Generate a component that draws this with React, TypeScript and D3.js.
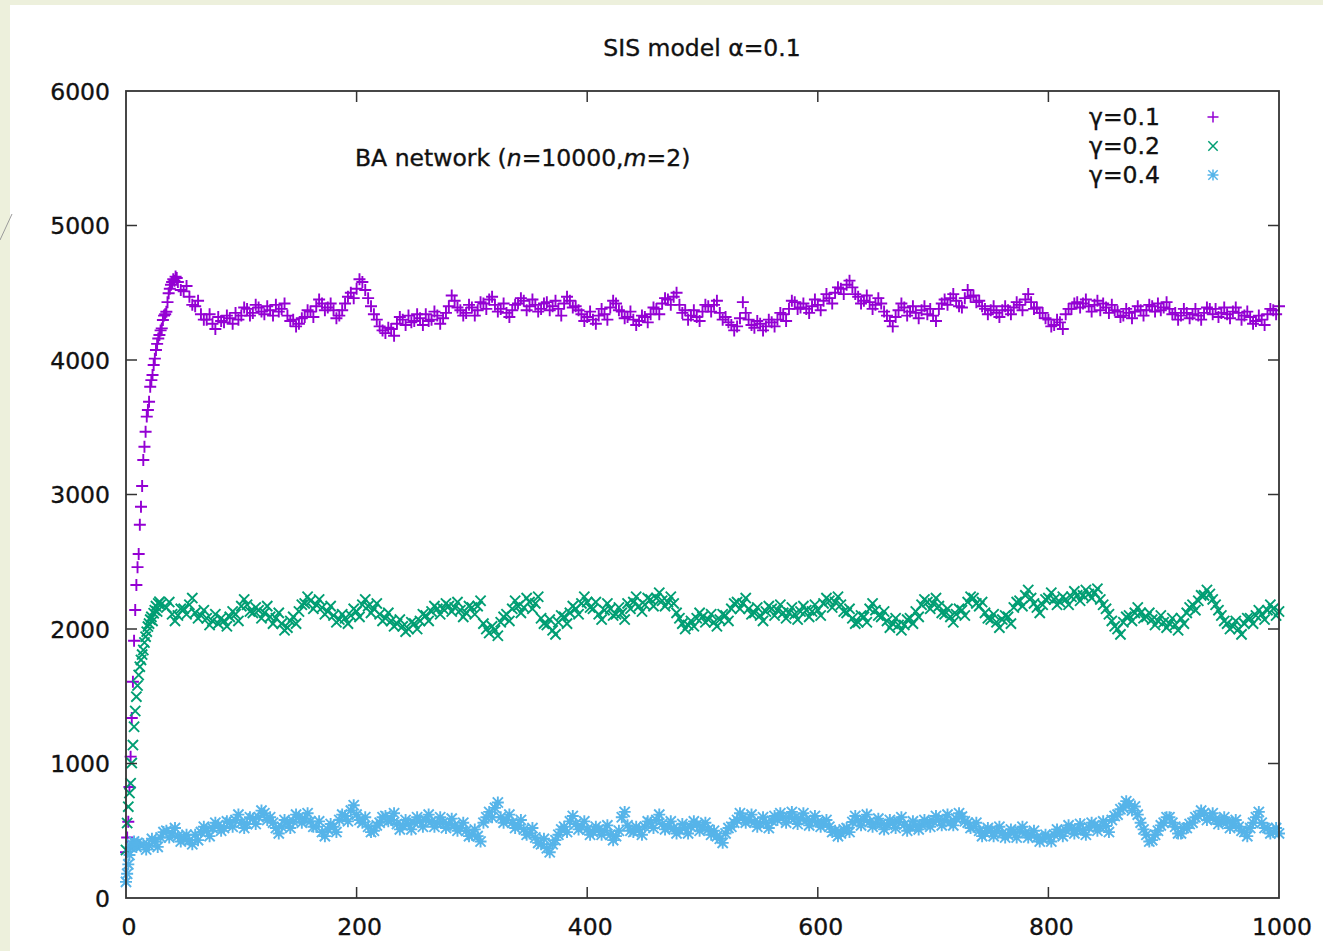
import React from "react";
import * as d3 from "d3";

// ---- data ----
const titleText = "SIS model α=0.1";
const xTicks = [0, 200, 400, 600, 800, 1000];
const yTicks = [0, 1000, 2000, 3000, 4000, 5000, 6000];
const seriesNames = ["γ=0.1", "γ=0.2", "γ=0.4"];

// γ=0.1 : one value per step for t=0..44, then points every 5 steps from t=45
// and the scattered points between them (t=47.5, 52.5, ...)
const purpleEarly = [
  340, 450, 567, 825, 1051, 1338, 1608, 1913, 2141, 2327,
  2460, 2558, 2775, 2909, 3063, 3257, 3355, 3467, 3579, 3628,
  3690, 3801, 3850, 3888, 3963, 4010, 4074, 4120, 4160, 4186,
  4220, 4235, 4297, 4330, 4340, 4359, 4430, 4496, 4530, 4560,
  4580, 4600, 4590, 4620, 4610,
];
const purpleLate = [
  4580, 4510, 4470, 4400, 4340, 4300, 4270, 4320, 4280, 4310,
  4350, 4330, 4380, 4350, 4390, 4340, 4370, 4410, 4380, 4330,
  4300, 4270, 4320, 4360, 4400, 4420, 4390, 4370, 4330, 4420,
  4500, 4530, 4580, 4460, 4340, 4250, 4200, 4230, 4270, 4300,
  4330, 4290, 4310, 4340, 4300, 4330, 4310, 4400, 4440, 4370,
  4350, 4390, 4370, 4420, 4450, 4410, 4380, 4350, 4370, 4420,
  4440, 4400, 4410, 4380, 4430, 4400, 4380, 4420, 4440, 4400,
  4340, 4320, 4300, 4330, 4340, 4390, 4420, 4360, 4320, 4300,
  4290, 4320, 4340, 4380, 4420, 4450, 4470, 4410, 4370, 4330,
  4320, 4360, 4400, 4410, 4350, 4320, 4260, 4250, 4430, 4300,
  4240, 4270, 4250, 4280, 4300, 4340, 4380, 4430, 4390, 4380,
  4400, 4410, 4440, 4460, 4500, 4530, 4560, 4540, 4470, 4440,
  4430, 4410, 4420, 4330, 4250, 4370, 4390, 4360, 4350, 4370,
  4340, 4330, 4380, 4450, 4460, 4440, 4390, 4520, 4480, 4440,
  4380, 4370, 4350, 4370, 4370, 4390, 4410, 4450, 4430, 4390,
  4350, 4300, 4260, 4280, 4340, 4380, 4430, 4420, 4400, 4410,
  4370, 4390, 4410, 4360, 4330, 4350, 4360, 4370, 4370, 4400,
  4420, 4390, 4380, 4350, 4330, 4350, 4340, 4330, 4350, 4380,
  4380, 4350, 4340, 4360, 4350, 4330, 4320, 4290, 4300, 4340,
  4370, 4400,
];
const purpleMid = [
  4520, 4550, 4410, 4440, 4300, 4340, 4230, 4290, 4330, 4270,
  4300, 4390, 4330, 4410, 4360, 4400, 4330, 4360, 4420, 4290,
  4250, 4310, 4370, 4320, 4450, 4370, 4420, 4310, 4370, 4470,
  4460, 4600, 4520, 4400, 4300, 4220, 4240, 4180, 4320, 4260,
  4280, 4340, 4260, 4290, 4360, 4270, 4350, 4480, 4390, 4330,
  4410, 4330, 4430, 4380, 4470, 4360, 4420, 4320, 4410, 4460,
  4370, 4450, 4360, 4420, 4370, 4440, 4330, 4470, 4390, 4370,
  4290, 4360, 4270, 4380, 4300, 4440, 4370, 4310, 4360, 4260,
  4330, 4280, 4390, 4340, 4460, 4410, 4500, 4350, 4300, 4370,
  4290, 4410, 4360, 4440, 4300, 4280, 4220, 4310, 4350, 4260,
  4290, 4220, 4300, 4250, 4350, 4290, 4440, 4380, 4420, 4350,
  4450, 4370, 4490, 4420, 4540, 4490, 4590, 4490, 4420, 4480,
  4380, 4460, 4360, 4290, 4320, 4420, 4330, 4400, 4310, 4400,
  4380, 4290, 4420, 4410, 4490, 4400, 4460, 4470, 4430, 4400,
  4340, 4400, 4320, 4400, 4340, 4430, 4370, 4490, 4380, 4350,
  4310, 4250, 4300, 4230, 4380, 4420, 4390, 4450, 4360, 4440,
  4420, 4350, 4370, 4320, 4380, 4310, 4400, 4330, 4410, 4360,
  4370, 4430, 4340, 4300, 4380, 4310, 4380, 4300, 4390, 4340,
  4320, 4390, 4310, 4390, 4300, 4360, 4270, 4330, 4260, 4380,
  4340,
];

// γ=0.2 : one value per step for t=0..30, then every 5 steps from t=35 (+ in-between points)
const greenEarly = [
  357, 558, 679, 780, 853, 1003, 1137, 1273, 1390, 1497,
  1580, 1658, 1720, 1770, 1810, 1844, 1900, 1943, 1980, 2018,
  2040, 2070, 2090, 2060, 2117, 2140, 2170, 2130, 2190, 2203,
  2180,
];
const greenLate = [
  2160, 2110, 2100, 2150, 2180, 2120, 2100, 2080, 2060, 2040,
  2060, 2090, 2110, 2170, 2180, 2120, 2140, 2120, 2090, 2080,
  2040, 2010, 2090, 2130, 2190, 2210, 2180, 2160, 2130, 2100,
  2070, 2080, 2100, 2130, 2180, 2170, 2150, 2110, 2080, 2060,
  2040, 2020, 2000, 2040, 2060, 2100, 2130, 2150, 2150, 2170,
  2160, 2140, 2120, 2160, 2170, 2040, 1970, 1990, 2050, 2110,
  2150, 2170, 2160, 2200, 2190, 2080, 2030, 1990, 2050, 2090,
  2120, 2150, 2190, 2200, 2150, 2110, 2140, 2150, 2110, 2120,
  2190, 2200, 2170, 2180, 2220, 2230, 2210, 2200, 2190, 2080,
  2000, 2060, 2080, 2090, 2070, 2050, 2070, 2100, 2150, 2200,
  2190, 2150, 2120, 2100, 2130, 2150, 2140, 2120, 2120, 2110,
  2130, 2140, 2130, 2140, 2190, 2210, 2200, 2180, 2120, 2080,
  2050, 2090, 2150, 2140, 2090, 2060, 2040, 2030, 2030, 2080,
  2130, 2180, 2200, 2190, 2170, 2110, 2090, 2110, 2140, 2200,
  2230, 2170, 2120, 2070, 2050, 2070, 2090, 2160, 2210, 2250,
  2230, 2160, 2180, 2230, 2220, 2200, 2220, 2240, 2250, 2250,
  2260, 2270, 2220, 2150, 2060, 2000, 2050, 2100, 2120, 2120,
  2090, 2070, 2060, 2050, 2040, 2030, 2080, 2120, 2180, 2210,
  2250, 2260, 2180, 2100, 2040, 2020, 2000, 2040, 2080, 2100,
  2110, 2140, 2150, 2130,
];
const greenMid = [
  2200, 2060, 2150, 2110, 2230, 2080, 2140, 2030, 2110, 2080,
  2020, 2130, 2060, 2220, 2130, 2160, 2080, 2170, 2040, 2120,
  1990, 2060, 2040, 2180, 2240, 2150, 2220, 2110, 2170, 2050,
  2110, 2040, 2150, 2090, 2220, 2120, 2190, 2060, 2120, 2020,
  2070, 1980, 2050, 2000, 2110, 2060, 2170, 2110, 2190, 2130,
  2200, 2090, 2170, 2110, 2210, 2000, 2020, 1950, 2090, 2060,
  2210, 2120, 2230, 2150, 2240, 2040, 2070, 1960, 2100, 2040,
  2170, 2110, 2240, 2160, 2200, 2070, 2190, 2100, 2160, 2070,
  2150, 2240, 2130, 2230, 2170, 2270, 2170, 2240, 2120, 2040,
  2030, 2020, 2120, 2050, 2110, 2020, 2110, 2060, 2190, 2150,
  2230, 2110, 2160, 2060, 2170, 2100, 2180, 2080, 2160, 2070,
  2170, 2090, 2180, 2100, 2230, 2160, 2240, 2130, 2150, 2040,
  2100, 2050, 2190, 2100, 2130, 2010, 2080, 1990, 2070, 2040,
  2090, 2220, 2150, 2230, 2120, 2150, 2050, 2150, 2100, 2240,
  2190, 2200, 2080, 2110, 2010, 2100, 2040, 2200, 2170, 2290,
  2190, 2120, 2220, 2270, 2180, 2240, 2180, 2280, 2210, 2290,
  2230, 2300, 2180, 2110, 2020, 1960, 2090, 2060, 2160, 2080,
  2120, 2030, 2100, 2010, 2080, 1990, 2040, 2160, 2140, 2250,
  2290, 2220, 2140, 2060, 2000, 2060, 1960, 2080, 2040, 2140,
  2070, 2180, 2100,
];

// γ=0.4 : one value per step for t=0..10, then every 5 steps from t=15 (+ in-between points)
const blueEarly = [120, 180, 250, 320, 380, 400, 390, 420, 400, 380, 410];
const blueLate = [
  400, 390, 420, 450, 500, 480, 460, 440, 430, 470,
  490, 500, 520, 540, 520, 560, 580, 560, 550, 590,
  600, 630, 600, 520, 530, 560, 570, 600, 590, 570,
  530, 490, 510, 530, 580, 610, 650, 620, 560, 530,
  500, 560, 610, 580, 550, 540, 550, 560, 570, 580,
  570, 560, 560, 550, 540, 520, 500, 470, 460, 560,
  640, 670, 600, 580, 560, 540, 510, 480, 450, 400,
  370, 400, 470, 530, 570, 550, 530, 510, 490, 510,
  500, 470, 460, 600, 540, 490, 510, 530, 560, 580,
  550, 530, 520, 505, 520, 530, 545, 530, 510, 500,
  440, 480, 530, 580, 600, 580, 565, 555, 560, 575,
  580, 600, 600, 595, 590, 580, 575, 565, 550, 530,
  500, 480, 520, 565, 575, 580, 565, 555, 550, 545,
  555, 565, 545, 530, 540, 545, 560, 570, 580, 575,
  565, 590, 605, 560, 530, 500, 485, 500, 500, 480,
  470, 490, 495, 485, 470, 450, 440, 455, 470, 490,
  505, 515, 510, 505, 525, 540, 530, 535, 580, 620,
  670, 700, 680, 560, 470, 430, 500, 560, 600, 530,
  480, 520, 560, 610, 630, 600, 585, 570, 565, 555,
  530, 490, 520, 600, 560, 520, 490, 480,
];
const blueMid = [
  360, 440, 380, 490, 450, 520, 420, 470, 400, 430,
  530, 460, 560, 500, 570, 530, 620, 520, 600, 550,
  650, 580, 560, 480, 580, 520, 620, 560, 630, 530,
  570, 460, 550, 490, 620, 570, 690, 580, 600, 490,
  540, 600, 570, 630, 510, 580, 510, 600, 530, 620,
  530, 600, 520, 590, 500, 560, 460, 510, 420, 600,
  600, 710, 560, 620, 520, 580, 470, 520, 410, 440,
  340, 430, 510, 490, 610, 510, 570, 470, 530, 470,
  540, 430, 500, 640, 500, 530, 470, 570, 520, 620,
  510, 570, 480, 550, 480, 570, 500, 560, 470, 460,
  410, 520, 560, 630, 560, 620, 530, 600, 520, 610,
  630, 560, 640, 550, 630, 540, 610, 530, 580, 490,
  460, 510, 490, 610, 540, 620, 530, 590, 510, 580,
  520, 600, 500, 570, 510, 580, 530, 610, 540, 620,
  540, 630, 570, 520, 560, 460, 520, 460, 530, 450,
  510, 450, 530, 450, 500, 420, 470, 420, 510, 460,
  540, 480, 550, 470, 560, 500, 570, 490, 610, 660,
  720, 650, 620, 510, 420, 470, 540, 600, 560, 480,
  520, 550, 600, 650, 580, 630, 550, 600, 520, 580,
  500, 460, 560, 640, 520, 480, 520,
];

const purpleLateStart = 45;
const greenLateStart = 35;
const blueLateStart = 15;
const lateStep = 5;

function buildSeries(early: number[], late: number[], mid: number[], lateStart: number) {
  const pts: [number, number][] = early.map((v, i) => [i, v]);
  late.forEach((v, i) => pts.push([lateStart + i * lateStep, v]));
  mid.forEach((v, i) => pts.push([lateStart + lateStep / 2 + i * lateStep, v]));
  return pts;
}

const W = 1323;
const H = 951;
const M = { left: 126, right: 1279, top: 91, bottom: 898 };
const FONT = "'DejaVu Sans', Verdana, sans-serif";
const FS = 23.5;
const colors = ["#9400d3", "#009e73", "#56b4e9"];

function markerPath(kind: number, s: number) {
  const c = s * 0.85;
  const plus = `M${-s},0H${s}M0,${-s}V${s}`;
  const cross = `M${-c},${-c}L${c},${c}M${-c},${c}L${c},${-c}`;
  if (kind === 0) return plus;
  if (kind === 1) return cross;
  return plus + cross;
}

export default function App() {
  const x = d3.scaleLinear().domain([0, 1000]).range([M.left, M.right]);
  const y = d3.scaleLinear().domain([0, 6000]).range([M.bottom, M.top]);
  const series = [
    buildSeries(purpleEarly, purpleLate, purpleMid, purpleLateStart),
    buildSeries(greenEarly, greenLate, greenMid, greenLateStart),
    buildSeries(blueEarly, blueLate, blueMid, blueLateStart),
  ];
  const tickLen = 11;
  const ms = 6;
  const textProps = { fontSize: FS, fill: "#111", stroke: "#111", strokeWidth: 0.35 };

  return (
    <svg
      width={W}
      height={H}
      style={{ position: "absolute", left: 0, top: 0, display: "block" }}
      fontFamily={FONT}
    >
      <rect x={0} y={0} width={W} height={H} fill="#edf0dc" />
      <rect x={10} y={5} width={W - 10} height={H - 5} fill="#ffffff" />
      <line x1={0} y1={240} x2={12} y2={214} stroke="#9a9a9a" strokeWidth={1} />

      <text x={702} y={56} textAnchor="middle" {...textProps}>
        {titleText}
      </text>

      {/* data */}
      {series.map((pts, si) => (
        <g key={si} stroke={colors[si]} strokeWidth={1.9} fill="none">
          {pts.map(([t, v], i) => (
            <path key={i} transform={`translate(${x(t)},${y(v)})`} d={markerPath(si, ms)} />
          ))}
        </g>
      ))}

      {/* frame */}
      <rect
        x={M.left}
        y={M.top}
        width={M.right - M.left}
        height={M.bottom - M.top}
        fill="none"
        stroke="#333"
        strokeWidth={1.8}
      />

      {/* y ticks */}
      {yTicks.map((t) => (
        <g key={"y" + t}>
          {t > 0 && t < 6000 && (
            <>
              <line x1={M.left} x2={M.left + tickLen} y1={y(t)} y2={y(t)} stroke="#333" strokeWidth={1.5} />
              <line x1={M.right} x2={M.right - tickLen} y1={y(t)} y2={y(t)} stroke="#333" strokeWidth={1.5} />
            </>
          )}
          <text x={110} y={y(t) + 8.5} textAnchor="end" {...textProps}>
            {t}
          </text>
        </g>
      ))}

      {/* x ticks */}
      {xTicks.map((t) => (
        <g key={"x" + t}>
          {t > 0 && t < 1000 && (
            <>
              <line x1={x(t)} x2={x(t)} y1={M.bottom} y2={M.bottom - tickLen} stroke="#333" strokeWidth={1.5} />
              <line x1={x(t)} x2={x(t)} y1={M.top} y2={M.top + tickLen} stroke="#333" strokeWidth={1.5} />
            </>
          )}
          <text x={x(t) + 3} y={935} textAnchor="middle" {...textProps}>
            {t}
          </text>
        </g>
      ))}

      {/* annotation */}
      <text x={355} y={166} {...textProps}>
        BA network (<tspan fontStyle="italic">n</tspan>=10000,<tspan fontStyle="italic">m</tspan>=2)
      </text>

      {/* legend */}
      {seriesNames.map((name, i) => (
        <g key={name}>
          <text x={1160} y={125 + i * 29} textAnchor="end" {...textProps}>
            {name}
          </text>
          <path
            transform={`translate(1213,${117 + i * 29})`}
            d={markerPath(i, 5.5)}
            stroke={colors[i]}
            strokeWidth={1.5}
            fill="none"
          />
        </g>
      ))}
    </svg>
  );
}
